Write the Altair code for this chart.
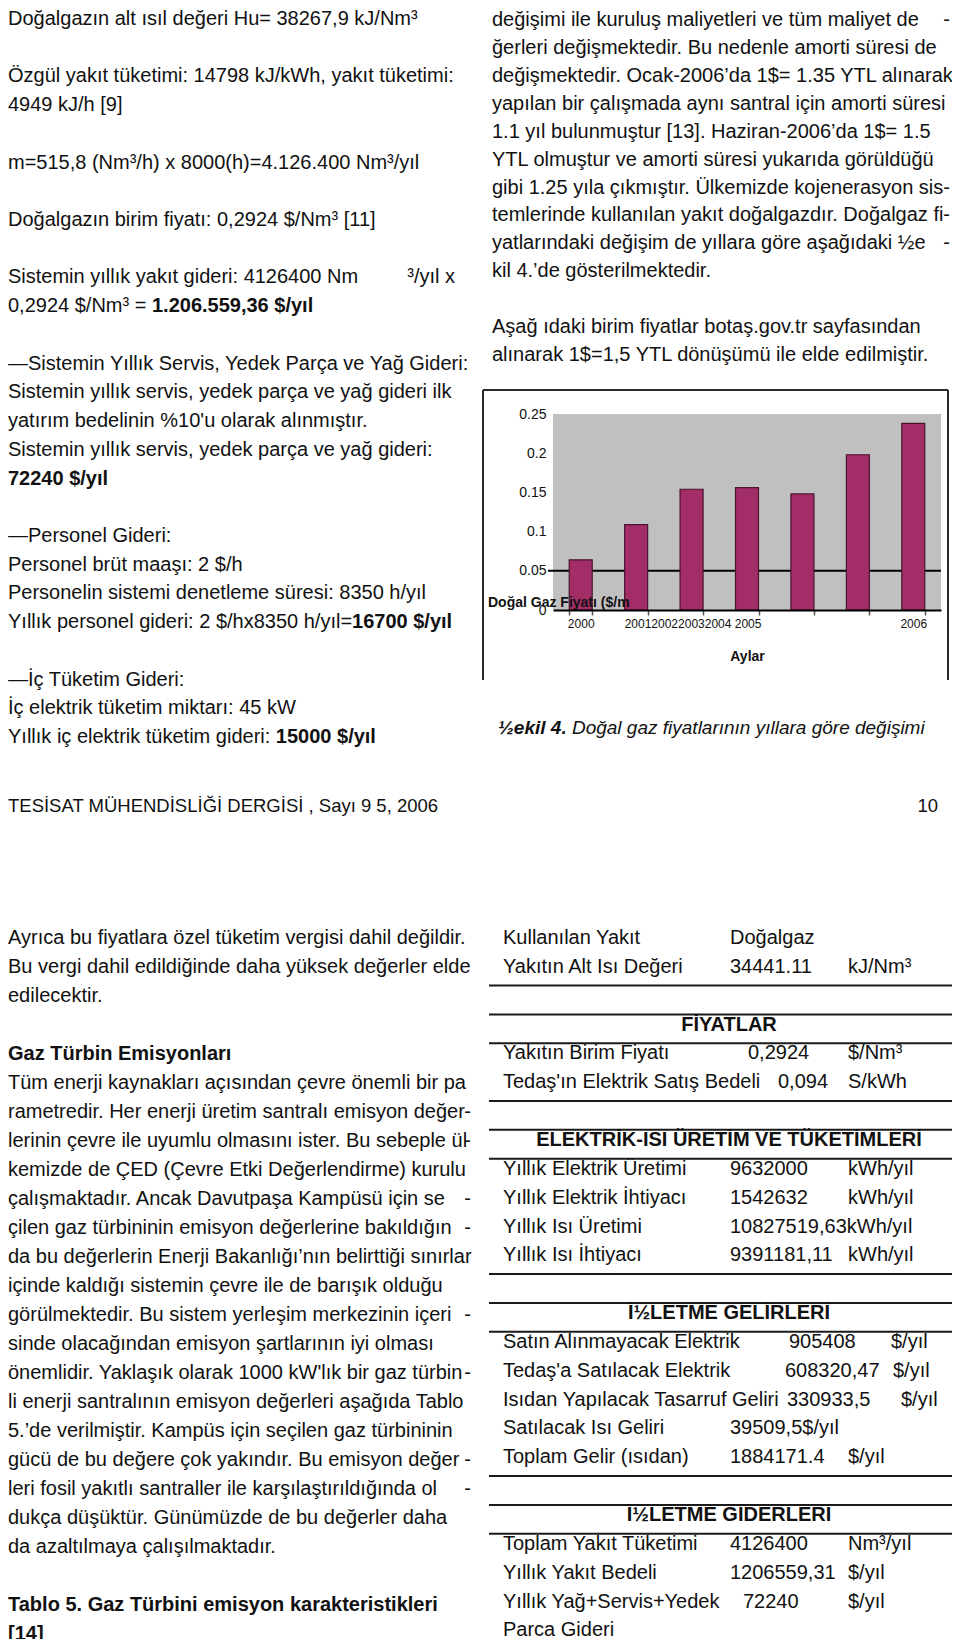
import altair as alt
import pandas as pd

FONT = "Liberation Sans, Arial, Helvetica, sans-serif"
INK = "#111111"

# ---------------- chart data ----------------
years = ["2000", "2001", "2002", "2003", "2004", "2005", "2006"]
gas_price = [0.064, 0.109, 0.154, 0.156, 0.148, 0.198, 0.238]
year_labels = {"2000": "2000", "2001": "2001200220032004 2005", "2006": "2006"}
y_ticks = [0, 0.05, 0.10, 0.15, 0.20, 0.25]
grid_value = [0.05]
chart_y_title = "Doğal Gaz Fiyatı ($/m"
chart_x_title = "Aylar"
caption_bold = "½ekil 4."
caption_text = "Doğal gaz fiyatlarının yıllara göre değişimi"
footer_text = "TESİSAT MÜHENDİSLİĞİ DERGİSİ , Sayı 9 5, 2006"
page_number = "10"

# ---------------- page text ("**" starts a bold part, "|" a right-aligned end) ----------------
left_top_lines = [
    "Doğalgazın alt ısıl değeri Hu= 38267,9 kJ/Nm³",
    "",
    "Özgül yakıt tüketimi: 14798 kJ/kWh,   yakıt tüketimi:",
    "4949 kJ/h [9]",
    "",
    "m=515,8 (Nm³/h) x 8000(h)=4.126.400 Nm³/yıl",
    "",
    "Doğalgazın birim fiyatı: 0,2924 $/Nm³ [11]",
    "",
    "Sistemin yıllık yakıt gideri: 4126400 Nm|³/yıl x",
    "0,2924 $/Nm³ = **1.206.559,36 $/yıl",
    "",
    "—Sistemin Yıllık Servis, Yedek Parça ve Yağ Gideri:",
    "Sistemin yıllık servis, yedek parça ve yağ gideri ilk",
    "yatırım bedelinin %10'u olarak alınmıştır.",
    "Sistemin yıllık servis, yedek parça ve yağ gideri:",
    "**72240 $/yıl",
    "",
    "—Personel Gideri:",
    "Personel brüt maaşı: 2 $/h",
    "Personelin sistemi denetleme süresi: 8350 h/yıl",
    "Yıllık personel gideri: 2 $/hx8350 h/yıl=**16700 $/yıl",
    "",
    "—İç Tüketim Gideri:",
    "İç elektrik tüketim miktarı: 45 kW",
    "Yıllık iç elektrik tüketim gideri: **15000 $/yıl",
]

right_top_lines = [
    "değişimi ile kuruluş maliyetleri ve tüm maliyet de|-",
    "ğerleri değişmektedir. Bu nedenle amorti süresi de",
    "değişmektedir. Ocak-2006’da 1$= 1.35 YTL alınarak",
    "yapılan bir çalışmada aynı santral için amorti süresi",
    "1.1 yıl bulunmuştur [13]. Haziran-2006’da 1$= 1.5",
    "YTL olmuştur ve amorti süresi yukarıda görüldüğü",
    "gibi 1.25 yıla çıkmıştır. Ülkemizde kojenerasyon sis|-",
    "temlerinde kullanılan yakıt doğalgazdır. Doğalgaz fi|-",
    "yatlarındaki değişim de yıllara göre aşağıdaki ½e|-",
    "kil 4.’de gösterilmektedir.",
    "",
    "Aşağ ıdaki birim fiyatlar botaş.gov.tr sayfasından",
    "alınarak 1$=1,5 YTL dönüşümü ile elde edilmiştir.",
]

left_bottom_lines = [
    "Ayrıca bu fiyatlara özel tüketim vergisi dahil değildir.",
    "Bu vergi dahil edildiğinde daha yüksek değerler elde",
    "edilecektir.",
    "",
    "**Gaz Türbin Emisyonları",
    "Tüm enerji kaynakları açısından çevre önemli bir pa",
    "rametredir. Her enerji üretim santralı emisyon değer|-",
    "lerinin çevre ile uyumlu olmasını ister. Bu sebeple ül|-",
    "kemizde de ÇED (Çevre Etki Değerlendirme)  kurulu",
    "çalışmaktadır. Ancak Davutpaşa Kampüsü için se|-",
    "çilen gaz türbininin emisyon değerlerine bakıldığın|-",
    "da bu değerlerin Enerji Bakanlığı’nın belirttiği sınırlar",
    "içinde kaldığı sistemin çevre ile de barışık olduğu",
    "görülmektedir. Bu sistem yerleşim merkezinin içeri|-",
    "sinde olacağından emisyon şartlarının iyi olması",
    "önemlidir. Yaklaşık olarak 1000 kW'lık bir gaz türbin|-",
    "li enerji santralının emisyon değerleri aşağıda Tablo",
    "5.’de verilmiştir. Kampüs için seçilen gaz türbininin",
    "gücü de bu değere çok yakındır. Bu emisyon değer|-",
    "leri fosil yakıtlı santraller ile karşılaştırıldığında ol|-",
    "dukça düşüktür. Günümüzde de bu değerler daha",
    "da azaltılmaya çalışılmaktadır.",
    "",
    "**Tablo 5. Gaz Türbini emisyon karakteristikleri",
    "**[14]",
]

# table ("#" marks a section heading)
table_labels = [
    "Kullanılan Yakıt", "Yakıtın Alt Isı Değeri", "", "#FİYATLAR",
    "Yakıtın Birim Fiyatı", "Tedaş'ın Elektrik Satış Bedeli", "",
    "#ELEKTRİK-ISI ÜRETİM VE TÜKETİMLERİ",
    "Yıllık Elektrik Üretimi", "Yıllık Elektrik İhtiyacı", "Yıllık Isı Üretimi",
    "Yıllık Isı İhtiyacı", "", "#İ½LETME GELİRLERİ",
    "Satın Alınmayacak Elektrik", "Tedaş'a Satılacak Elektrik",
    "Isıdan Yapılacak Tasarruf Geliri", "Satılacak Isı Geliri", "Toplam Gelir (ısıdan)",
    "", "#İ½LETME GİDERLERİ",
    "Toplam Yakıt Tüketimi", "Yıllık Yakıt Bedeli", "Yıllık Yağ+Servis+Yedek", "Parca Gideri",
]
table_values = [
    "Doğalgaz", "34441.11", "", "",
    "0,2924", "0,094", "",
    "",
    "9632000", "1542632", "10827519,63kWh/yıl",
    "9391181,11", "", "",
    "905408", "608320,47",
    "330933,5", "39509,5$/yıl", "1884171.4",
    "", "",
    "4126400", "1206559,31", "72240", "",
]
table_units = [
    "", "kJ/Nm³", "", "",
    "$/Nm³", "S/kWh", "",
    "",
    "kWh/yıl", "kWh/yıl", "",
    "kWh/yıl", "", "",
    "$/yıl", "$/yıl",
    "$/yıl", "", "$/yıl",
    "", "",
    "Nm³/yıl", "$/yıl", "$/yıl", "",
]

# ---------------- layout (page pixels) ----------------
W, H = 944, 1631
def P(v):
    return v - 8

LT = dict(x=8, y0=19, step=28.72, right=455)
RT = dict(x=492, y0=20, step=27.92, right=950)
LB = dict(x=8, y0=938, step=29.0, right=471)
TB = dict(x=503, value_x=730, unit_x=848, y0=938, step=28.85, rule_x=(489, 952), center=729)
VALUE_TABS = {4: 748, 5: 778, 14: 789, 15: 785, 16: 787, 23: 743}
UNIT_TABS = {14: 891, 15: 893, 16: 901}
PLOT = dict(x0=553, x1=941, ytop=414, y0=610)
FRAME = dict(x0=483, x1=948, y0=390, y1=680)
CAPTION = dict(x=498, y=728)
FOOTER = dict(x=8, right=938, y=806)

# Arial/Liberation Sans advance widths (1/1000 em) for inline bold placement
W_REG, W_BOLD = {}, {}
for chars, w in [("ijl’‘", 222), ("'", 191), (" !,./:;[]\\ftIİı", 278), ("()-r³`", 333),
                 ('"', 355), ("*", 389), ("cksvxyzçşJ", 500),
                 ("0123456789abdeghnopquöüğ$#?_L", 556), ("+=<>", 584), ("FTZ", 611),
                 ("ABEKPSVXYŞ", 667), ("CDHNRUÇÜ", 722), ("GOQÖĞ", 778), ("mM", 833),
                 ("½", 834), ("%", 889), ("W", 944), ("—", 1000)]:
    for c in chars:
        W_REG[c] = w
for chars, w in [(" ,.:;ilıI!İ", 278), ("ftr", 333), ("0123456789aeksy$cvxz", 556), ("½", 834)]:
    for c in chars:
        W_BOLD[c] = w


def text_width(s, size, table):
    return sum(table.get(c, 556) for c in s) * size / 1000.0


def row_scale(y0, step):
    return alt.Scale(domain=[0, 1], range=[P(y0), P(y0) + step], nice=False, zero=False)


def block_layers(lines, lay, size=20):
    recs = []
    for i, s in enumerate(lines):
        if not s:
            continue
        main, _, tail = s.partition("|")
        normal, _, bold = main.partition("**")
        if normal:
            recs.append({"row": i, "x": P(lay["x"]), "text": normal, "kind": "normal"})
        if bold:
            recs.append({"row": i, "x": P(lay["x"]) + text_width(normal, size, W_REG),
                         "text": bold, "kind": "bold"})
        if tail:
            recs.append({"row": i, "x": P(lay["right"]), "text": tail, "kind": "tail"})
    df = pd.DataFrame(recs)
    ys = row_scale(lay["y0"], lay["step"])
    out = []
    for kind, g in df.groupby("kind"):
        out.append(
            alt.Chart(g).mark_text(
                align="right" if kind == "tail" else "left", baseline="middle",
                font=FONT, fontSize=size, fontWeight="bold" if kind == "bold" else "normal",
                color=INK,
            ).encode(
                x=alt.X("x:Q", scale=None),
                y=alt.Y("row:Q", scale=ys, axis=None),
                text="text:N",
            )
        )
    return out


layers = []
layers += block_layers(left_top_lines, LT)
layers += block_layers(right_top_lines, RT)
layers += block_layers(left_bottom_lines, LB)

# ---------------- table ----------------
n = len(table_labels)
lab_recs, head_recs, val_recs, unit_recs, rule_recs = [], [], [], [], []
for i in range(n):
    lab, val, unit = table_labels[i], table_values[i], table_units[i]
    is_head = lab.startswith("#")
    is_blank = (lab == "" and val == "")
    nxt_blank = i + 1 < n and table_labels[i + 1] == "" and table_values[i + 1] == ""
    if is_head:
        head_recs.append({"row": i, "text": lab[1:]})
    elif lab:
        lab_recs.append({"row": i, "text": lab})
    if val:
        val_recs.append({"row": i, "x": P(VALUE_TABS.get(i, TB["value_x"])), "text": val})
    if unit:
        unit_recs.append({"row": i, "x": P(UNIT_TABS.get(i, TB["unit_x"])), "text": unit})
    if is_head or is_blank or nxt_blank:
        rule_recs.append({"r": i + 0.65})

tbs = row_scale(TB["y0"], TB["step"])
layers.append(
    alt.Chart(pd.DataFrame(rule_recs)).mark_rule(color="#1a1a1a", strokeWidth=2).encode(
        y=alt.Y("r:Q", scale=tbs, axis=None),
        x=alt.value(P(TB["rule_x"][0])), x2=alt.value(P(TB["rule_x"][1])),
    )
)
layers.append(
    alt.Chart(pd.DataFrame(lab_recs)).mark_text(
        align="left", baseline="middle", font=FONT, fontSize=20, color=INK
    ).encode(x=alt.value(P(TB["x"])), y=alt.Y("row:Q", scale=tbs, axis=None), text="text:N")
)
for recs in (val_recs, unit_recs):
    layers.append(
        alt.Chart(pd.DataFrame(recs)).mark_text(
            align="left", baseline="middle", font=FONT, fontSize=20, color=INK
        ).encode(x=alt.X("x:Q", scale=None), y=alt.Y("row:Q", scale=tbs, axis=None), text="text:N")
    )
layers.append(
    alt.Chart(pd.DataFrame(head_recs)).mark_text(
        align="center", baseline="middle", font=FONT, fontSize=20, fontWeight="bold", color=INK
    ).encode(x=alt.value(P(TB["center"])), y=alt.Y("row:Q", scale=tbs, axis=None), text="text:N")
)

# ---------------- bar chart ----------------
bar_df = pd.DataFrame({"year": years, "price": gas_price})
grid_df = pd.DataFrame({"price": grid_value})
one = pd.DataFrame({"k": [0]})

xs = alt.Scale(domain=years, range=[P(PLOT["x0"]), P(PLOT["x1"])],
               paddingInner=0.585, paddingOuter=0.2925)
ys = alt.Scale(domain=[0, 0.25], range=[P(PLOT["y0"]), P(PLOT["ytop"])], nice=False, zero=False)

label_expr = ""
for k, v in year_labels.items():
    label_expr += f"datum.value == '{k}' ? '{v}' : "
label_expr += "''"
long_key = "2001"

y_axis = alt.Axis(
    orient="left", offset=-P(PLOT["x0"]), zindex=1, values=y_ticks, format="~g",
    labelFont=FONT, labelFontSize=14, labelColor=INK, labelPadding=7,
    ticks=False, domain=False, grid=False, title="",
)
x_axis = alt.Axis(
    orient="bottom", offset=-(H - P(PLOT["y0"])), zindex=1,
    labelExpr=label_expr, labelFont=FONT, labelFontSize=12, labelColor=INK,
    labelPadding=3, labelAngle=0, labelOverlap=False,
    labelAlign={"condition": {"test": f"datum.value == '{long_key}'", "value": "left"}, "value": "center"},
    labelOffset={"condition": {"test": f"datum.value == '{long_key}'", "value": -12}, "value": 0},
    domainColor="#000000", domainWidth=2, tickColor="#555555", tickSize=5, tickWidth=1.5,
    tickBand="extent", grid=False,
    title=chart_x_title, titleFont=FONT, titleFontSize=14, titleFontWeight="bold",
    titleColor=INK, titleY=46, titleBaseline="middle",
)

bg = alt.Chart(one).mark_rect(color="#c0c0c0").encode(
    x=alt.value(P(PLOT["x0"])), x2=alt.value(P(PLOT["x1"])),
    y=alt.value(P(PLOT["ytop"])), y2=alt.value(P(PLOT["y0"])),
)
grid05 = alt.Chart(grid_df).mark_rule(color="#000000", strokeWidth=2).encode(
    y=alt.Y("price:Q", scale=ys, axis=y_axis),
    x=alt.value(P(PLOT["x0"] - 5)), x2=alt.value(P(PLOT["x1"])),
)
bars = alt.Chart(bar_df).mark_bar(color="#a32d66", stroke="#4a1430", strokeWidth=1.2).encode(
    x=alt.X("year:N", scale=xs, sort=years, axis=x_axis),
    y=alt.Y("price:Q", scale=ys, axis=y_axis),
)
bar_chart = alt.layer(bg, grid05, bars)
layers.append(bar_chart)

frame = pd.DataFrame({"k": [0]})
for enc in (
    dict(x=alt.value(P(FRAME["x0"])), x2=alt.value(P(FRAME["x1"])), y=alt.value(P(FRAME["y0"]))),
    dict(x=alt.value(P(FRAME["x0"])), y=alt.value(P(FRAME["y0"])), y2=alt.value(P(FRAME["y1"]))),
    dict(x=alt.value(P(FRAME["x1"])), y=alt.value(P(FRAME["y0"])), y2=alt.value(P(FRAME["y1"]))),
):
    layers.append(alt.Chart(frame).mark_rule(color="#2a2a2a", strokeWidth=2).encode(**enc))

layers.append(
    alt.Chart(one).mark_text(align="left", baseline="middle", font=FONT, fontSize=14,
                             fontWeight="bold", color=INK).encode(
        x=alt.value(P(488)), y=alt.value(P(603)), text=alt.value(chart_y_title))
)

# caption
layers.append(
    alt.Chart(one).mark_text(align="left", baseline="middle", font=FONT, fontSize=19,
                             fontWeight="bold", fontStyle="italic", color=INK).encode(
        x=alt.value(P(CAPTION["x"])), y=alt.value(P(CAPTION["y"])), text=alt.value(caption_bold))
)
layers.append(
    alt.Chart(one).mark_text(align="left", baseline="middle", font=FONT, fontSize=19,
                             fontStyle="italic", color=INK).encode(
        x=alt.value(P(CAPTION["x"]) + text_width(caption_bold + " ", 19, W_BOLD)),
        y=alt.value(P(CAPTION["y"])), text=alt.value(caption_text))
)

# footer
layers.append(
    alt.Chart(one).mark_text(align="left", baseline="middle", font=FONT, fontSize=18.5,
                             color=INK).encode(
        x=alt.value(P(FOOTER["x"])), y=alt.value(P(FOOTER["y"])), text=alt.value(footer_text))
)
layers.append(
    alt.Chart(one).mark_text(align="right", baseline="middle", font=FONT, fontSize=18.5,
                             color=INK).encode(
        x=alt.value(P(FOOTER["right"])), y=alt.value(P(FOOTER["y"])), text=alt.value(page_number))
)

chart = alt.layer(*layers).resolve_scale(
    x="independent", y="independent"
).properties(
    width=W, height=H, padding=0, background="white",
    autosize=alt.AutoSizeParams(type="none"),
).configure_view(strokeWidth=0)

chart.save("out.html", embed_options={"renderer": "svg", "actions": False})
